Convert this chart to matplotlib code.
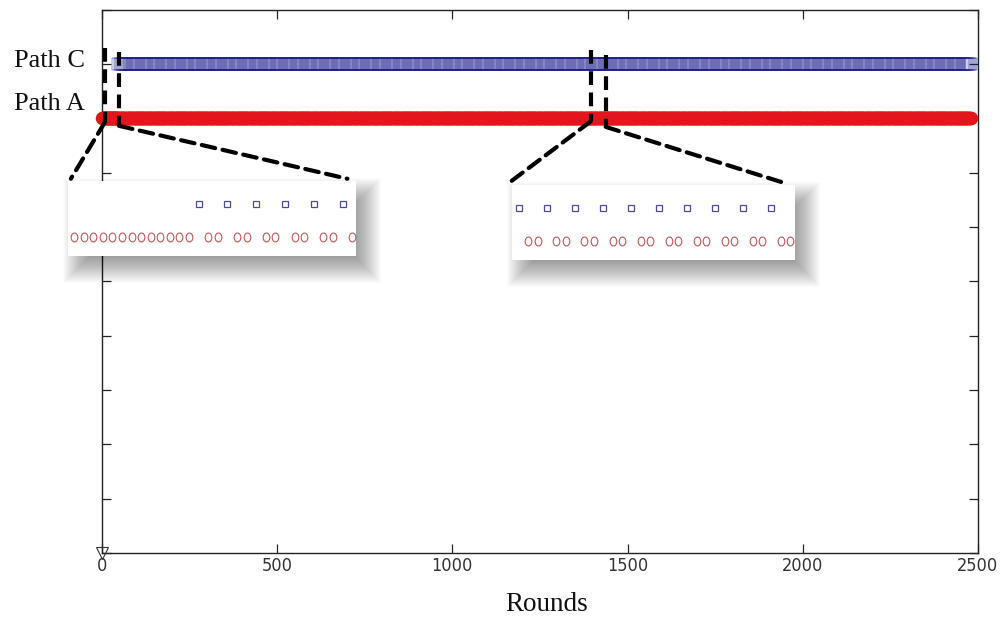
import numpy as np
import matplotlib
matplotlib.use("Agg")
import matplotlib.pyplot as plt
from matplotlib.path import Path
from matplotlib.transforms import Affine2D
from matplotlib.patches import Rectangle, ConnectionPatch
from matplotlib import font_manager

# ---------------- data ----------------
path_names = ["Path C", "Path A"]
path_levels = [9, 8]
first_round = 1
n_rounds = 2480
warmup_rounds_A = 46                 # opening rounds that always pick Path A
cycle_after_warmup = ["C", "A", "A"]  # repeating choice afterwards
origin_marker_x = [0]
origin_marker_y = [0]
x_ticks = [0, 500, 1000, 1500, 2000, 2500]
x_tick_labels = ["0", "500", "1000", "1500", "2000", "2500"]
y_ticks = list(range(0, 11))
zoom1_rounds = (34, 63)
zoom2_rounds = (1400, 1429)
zoom1_window = (8.6, 48.5)
zoom2_window = (1394.6, 1437.5)
x_label = "Rounds"

# build the choice sequence
rounds = np.arange(first_round, n_rounds + 1)
choice = []
for r in rounds:
    if r <= warmup_rounds_A:
        choice.append("A")
    else:
        choice.append(cycle_after_warmup[(r - warmup_rounds_A - 1) % len(cycle_after_warmup)])
choice = np.array(choice)
rounds_C = rounds[choice == "C"]
rounds_A = rounds[choice == "A"]
level = dict(zip(["C", "A"], path_levels))

# ---------------- figure ----------------
W, H = 1002, 617
fig = plt.figure(figsize=(W / 100, H / 100), dpi=100)
fig.patch.set_facecolor("white")

def fx(x):
    return x / W

def fy(y):
    return 1 - y / H

ax_l, ax_r, ax_t, ax_b = 102, 978, 9.5, 553
ax = fig.add_axes([fx(ax_l), fy(ax_b), fx(ax_r) - fx(ax_l), fy(ax_t) - fy(ax_b)])
ax.set_zorder(0)

ax.plot(rounds_C, np.full(len(rounds_C), level["C"]), ls="none", marker="s",
        ms=8.8, mfc="none", mec="#1c1c8e", mew=0.32, clip_on=False, zorder=3)
ax.plot(rounds_A, np.full(len(rounds_A), level["A"]), ls="none", marker="o",
        ms=8.4, mfc="none", mec="#e3161b", mew=1.3, clip_on=False, zorder=3)
ax.plot(origin_marker_x, origin_marker_y, ls="none", marker="v", ms=8,
        mfc="none", mec="#333333", mew=0.8, clip_on=False, zorder=4)

ax.set_xlim(0, 2500)
ax.set_ylim(0, 10)
ax.set_xticks(x_ticks)
names = {f.name for f in font_manager.fontManager.ttflist}
tick_font = "Liberation Sans Narrow" if "Liberation Sans Narrow" in names else "DejaVu Sans"
ax.set_xticklabels(x_tick_labels, fontfamily=tick_font, fontstretch="condensed",
                   fontsize=13, color="#333333")
ax.set_yticks(y_ticks)
ax.set_yticklabels([])
ax.tick_params(direction="in", length=6.5, width=0.9, top=True, right=True, pad=3,
               color="#222222")
for s in ax.spines.values():
    s.set_linewidth(1.0)
    s.set_color("#222222")

ax.set_xlabel(x_label, fontfamily="Liberation Serif", fontsize=19.5, color="#111111")
ax.xaxis.label.set_va("baseline")
ax.xaxis.set_label_coords((547 - ax_l) / (ax_r - ax_l), (ax_b - 611) / (ax_b - ax_t))

label_baselines = {"Path C": 8.94, "Path A": 8.15}
for name in path_names:
    ax.text((85 - ax_l) / (ax_r - ax_l), label_baselines[name], name,
            transform=ax.get_yaxis_transform(), ha="right", va="baseline",
            fontfamily="Liberation Serif", fontsize=19, color="#111111")

# ---------------- magnifier insets ----------------
dash = (0, (3.3, 1.8))
ellipse = Path.unit_circle().transformed(Affine2D().scale(0.75, 1.0))

def add_shadow(x0, y0, x1, y1, dx=10, dy=12, R=30, N=30, a=0.016):
    for i in range(N):
        e = R / 2 - R * i / N
        rect = Rectangle((fx(x0 + dx - e), fy(y1 + dy + e)),
                         fx(x1 - x0 + 2 * e), (y1 - y0 + 2 * e) / H,
                         transform=fig.transFigure, facecolor="black",
                         alpha=a, lw=0, zorder=2)
        fig.add_artist(rect)

def add_inset(box, x_first_px, spacing, rr, window, vtop, vbot, endB):
    x0, y0, x1, y1 = box
    add_shadow(x0, y0, x1, y1)
    ins = fig.add_axes([fx(x0), fy(y1), fx(x1) - fx(x0), fy(y0) - fy(y1)])
    ins.set_zorder(5)
    ins.set_facecolor("white")
    for s in ins.spines.values():
        s.set_visible(False)
    ins.set_xticks([])
    ins.set_yticks([])
    lo, hi = rr
    ins.set_xlim(lo - (x_first_px - x0) / spacing, lo + (x1 - x_first_px) / spacing)
    ins.set_ylim(7.45, 9.67)
    sel = (rounds >= lo) & (rounds <= hi)
    rc = rounds[sel & (choice == "C")]
    ra = rounds[sel & (choice == "A")]
    ins.plot(rc, np.full(len(rc), level["C"]), ls="none", marker="s", ms=4.6,
             mfc="none", mec="#4c4c96", mew=0.9)
    ins.plot(ra, np.full(len(ra), level["A"]), ls="none", marker=ellipse, ms=6.4,
             mfc="none", mec="#c05858", mew=0.8)
    # dashed window on the main axes
    for xr, yt, yb in [(window[0], vtop[0], vbot[0]), (window[1], vtop[1], vbot[1])]:
        ax.plot([xr, xr], [yt, yb], color="black", lw=3, ls=dash, clip_on=False,
                zorder=6, solid_capstyle="butt", dash_capstyle="butt")
    for xr, yb, xb in [(window[0], vbot[0], endB[0]), (window[1], vbot[1], endB[1])]:
        cp = ConnectionPatch(xyA=(xr, yb), coordsA=ax.transData,
                             xyB=(xb, 1.03), coordsB=ins.transAxes,
                             color="black", lw=3, ls=dash, zorder=4)
        fig.add_artist(cp)
    return ins

add_inset((68, 181, 356, 256), 74, 9.59, zoom1_rounds, zoom1_window,
          (9.29, 9.22), (7.93, 7.86), (0.01, 0.97))
add_inset((512, 185, 795, 260), 519, 9.35, zoom2_rounds, zoom2_window,
          (9.25, 9.16), (7.94, 7.84), (-0.01, 0.96))

fig.savefig("out.png", dpi=100, facecolor="white")
